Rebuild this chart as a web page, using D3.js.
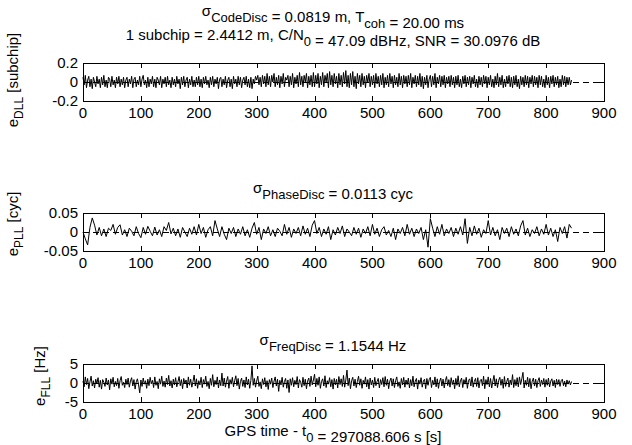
<!DOCTYPE html>
<html lang="en">
<head>
    <meta charset="UTF-8">
    <title>Discriminator errors</title>
    <script src="https://cdn.jsdelivr.net/npm/d3@7"></script>
    <style>
        body { margin: 0; background: #fff; }
        text { font-family: "Liberation Sans", Arial, Helvetica, sans-serif; fill: #000; }
    </style>
</head>
<body>
<script>
    // sample grids of the tracking output (seconds since t0)
    const codeTimes = d3.range(0, 845, 2)
    const phaseTimes = d3.range(0, 845, 4)
    const freqTimes = d3.range(0, 845, 2)
    const xTicks = [0, 100, 200, 300, 400, 500, 600, 700, 800, 900]

    // code discriminator error [subchip]
    const dllError = [
        0.05, -0.03, 0.07, -0.06, 0.02, 0.06, -0.05, 0.03, -0.07, 0.05, 0.00, -0.05, 0.06, -0.02, 0.03, -0.06, 0.05, -0.03, 0.07, -0.05,
        0.02, -0.06, 0.05, 0.03, -0.05, 0.06, -0.03, 0.02, -0.06, 0.05, -0.02, 0.06, -0.05, 0.03, -0.03, 0.05, -0.06, 0.02, 0.05, -0.05,
        0.03, -0.02, 0.06, -0.06, 0.03, 0.05, -0.05, 0.02, -0.03, 0.06, -0.05, 0.03, 0.07, -0.03, 0.02, -0.06, 0.05, -0.05, 0.03, -0.02,
        0.06, -0.05, 0.03, -0.06, 0.05, 0.02, -0.03, 0.06, -0.06, 0.03, -0.02, 0.05, -0.05, 0.06, -0.03, 0.02, -0.06, 0.05, -0.03, 0.03,
        -0.05, 0.06, -0.02, 0.03, -0.07, 0.05, -0.03, 0.06, -0.05, 0.02, 0.05, -0.06, 0.03, -0.03, 0.06, -0.05, 0.02, -0.05, 0.05, -0.03,
        0.06, -0.05, 0.03, -0.06, 0.05, -0.02, 0.06, -0.03, 0.02, -0.06, 0.05, -0.03, 0.06, -0.05, 0.03, -0.02, 0.05, -0.07, 0.03, 0.05,
        -0.05, 0.03, -0.03, 0.06, -0.06, 0.02, 0.05, -0.05, 0.03, -0.07, 0.06, -0.02, 0.03, -0.05, 0.06, -0.03, 0.05, -0.06, 0.02, 0.05,
        -0.03, 0.06, -0.05, 0.03, -0.06, 0.05, -0.07, 0.03, -0.02, 0.06, 0.02, 0.07, -0.03, 0.05, -0.05, 0.07, -0.02, 0.06, -0.05, 0.09,
        -0.03, 0.06, -0.05, 0.07, 0.00, 0.09, -0.05, 0.05, -0.03, 0.07, -0.06, 0.06, -0.02, 0.09, -0.05, 0.05, 0.02, 0.07, -0.05, 0.06,
        -0.03, 0.09, -0.06, 0.05, -0.02, 0.07, -0.05, 0.10, -0.03, 0.06, -0.05, 0.07, 0.00, 0.09, -0.06, 0.06, -0.03, 0.07, -0.05, 0.10,
        -0.05, 0.07, -0.02, 0.09, -0.06, 0.06, -0.03, 0.10, -0.05, 0.07, 0.00, 0.09, -0.06, 0.11, -0.03, 0.07, -0.05, 0.09, -0.02, 0.06,
        -0.06, 0.09, -0.03, 0.07, -0.05, 0.10, -0.02, 0.12, -0.05, 0.07, -0.06, 0.09, -0.03, 0.11, -0.05, 0.06, -0.07, 0.09, -0.02, 0.07,
        -0.05, 0.09, -0.03, 0.06, -0.06, 0.07, 0.00, 0.09, -0.05, 0.06, -0.03, 0.07, -0.06, 0.09, -0.02, 0.06, -0.05, 0.07, -0.03, 0.09,
        -0.06, 0.05, -0.03, 0.07, -0.05, 0.09, -0.02, 0.06, -0.06, 0.07, -0.03, 0.05, -0.05, 0.09, -0.03, 0.06, -0.06, 0.07, -0.02, 0.06,
        -0.05, 0.07, -0.03, 0.09, -0.06, 0.05, -0.02, 0.07, -0.05, 0.06, -0.03, 0.09, -0.05, 0.06, -0.07, 0.05, -0.03, 0.07, -0.06, 0.03,
        0.07, -0.05, 0.06, -0.03, 0.09, -0.06, 0.05, -0.02, 0.07, -0.05, 0.06, -0.03, 0.07, -0.06, 0.05, -0.02, 0.06, -0.05, 0.07, -0.03,
        0.05, -0.06, 0.06, -0.03, 0.07, -0.05, 0.03, -0.06, 0.06, -0.02, 0.07, -0.05, 0.05, -0.03, 0.06, -0.06, 0.05, -0.02, 0.07, -0.05,
        0.03, -0.06, 0.06, -0.03, 0.05, -0.05, 0.07, -0.02, 0.06, -0.06, 0.05, -0.03, 0.07, -0.05, 0.03, -0.06, 0.06, -0.03, 0.09, -0.05,
        0.05, -0.03, 0.07, -0.06, 0.03, -0.05, 0.06, -0.02, 0.07, -0.05, 0.05, -0.06, 0.06, -0.03, 0.07, -0.05, 0.03, -0.07, 0.06, -0.03,
        0.05, -0.05, 0.07, -0.03, 0.06, -0.06, 0.05, -0.02, 0.07, -0.05, 0.06, -0.03, 0.05, -0.06, 0.07, -0.03, 0.06, -0.05, 0.03, -0.06,
        0.07, -0.03, 0.05, -0.06, 0.06, -0.02, 0.07, -0.05, 0.05, -0.03, 0.06, -0.06, 0.03, -0.05, 0.07, -0.03, 0.06, -0.05, 0.05, -0.03,
        0.05, -0.03, 0.02
    ]

    // phase discriminator error [cyc]
    const pllError = [
        0.000, -0.018, -0.034, 0.012, 0.037, 0.018, -0.008, 0.012, -0.010, 0.008,
        -0.012, 0.010, 0.004, 0.020, -0.006, 0.012, 0.019, -0.008, 0.006, -0.012,
        0.010, 0.002, -0.010, 0.014, -0.004, -0.015, 0.012, -0.006, 0.015, 0.002,
        -0.010, 0.013, -0.008, 0.006, -0.012, 0.014, 0.004, 0.025, -0.005, 0.010,
        -0.010, 0.008, -0.014, 0.012, 0.000, -0.012, 0.010, -0.006, 0.014, -0.008,
        0.020, -0.004, 0.012, -0.014, 0.006, 0.014, -0.010, 0.030, 0.008, -0.012,
        0.014, -0.006, -0.020, 0.010, -0.004, 0.012, -0.012, 0.008, -0.006, 0.014,
        -0.010, 0.006, -0.014, 0.010, 0.025, -0.006, 0.012, -0.020, 0.008, -0.004,
        0.014, -0.010, 0.006, -0.012, 0.010, 0.002, -0.010, 0.020, -0.006, 0.012,
        -0.014, 0.008, -0.004, 0.012, -0.010, 0.016, -0.006, 0.010, -0.012, 0.018,
        0.030, -0.004, 0.012, -0.012, 0.008, -0.006, 0.014, -0.020, 0.006, -0.008,
        0.012, -0.004, 0.016, -0.012, 0.008, 0.000, -0.010, 0.012, -0.006, 0.010,
        -0.014, 0.008, -0.004, 0.014, -0.010, 0.020, -0.006, 0.010, -0.012, 0.006,
        0.014, -0.008, 0.004, -0.012, 0.010, -0.020, 0.008, -0.004, 0.012, -0.010,
        0.020, -0.006, 0.010, -0.012, 0.008, -0.004, 0.012, -0.020, 0.006, -0.040,
        0.035, 0.010, -0.012, 0.014, -0.006, 0.020, -0.010, 0.008, -0.004, 0.012,
        -0.012, 0.010, -0.006, 0.014, -0.008, 0.035, -0.030, 0.012, -0.010, 0.016,
        -0.006, 0.010, -0.014, 0.006, -0.004, 0.030, -0.008, 0.012, -0.010, 0.006,
        -0.020, 0.012, -0.004, 0.010, -0.012, 0.014, -0.006, 0.008, -0.010, 0.016,
        0.030, -0.008, 0.010, -0.012, 0.006, -0.004, 0.014, -0.010, 0.008, -0.006,
        0.020, -0.008, 0.010, -0.012, 0.006, -0.025, 0.012, -0.004, 0.014, -0.016,
        0.020, 0.010
    ]

    // frequency discriminator error [Hz]
    const fllError = [
        0.5, -1.0, 1.6, -0.4, 1.2, -1.5, 0.3, 1.8, -0.8, 0.6, -1.3, 1.0, -0.2, 1.4, -1.1, 0.7, -1.6, 0.9, 0.2, -0.9,
        1.3, -0.5, 0.8, -1.8, 1.1, -0.3, 1.5, -1.0, 0.4, -0.7, 1.2, -1.4, 0.6, 1.7, -0.6, 0.2, -1.2, 1.0, -0.4, 1.3,
        -1.1, 0.5, 1.4, -0.8, 0.9, -1.6, 0.3, 1.1, -0.5, -2.6, 0.8, -0.9, 1.3, -0.3, 0.6, -1.4, 1.0, -0.7, 1.5, -0.2,
        0.7, -1.2, 1.6, -0.6, 0.4, -1.5, 1.1, -0.3, 1.8, -0.9, 0.5, -1.1, 1.3, -0.4, 2.0, -0.8, 0.6, -1.3, 1.0, -0.5,
        1.4, -1.0, 0.3, 1.7, -0.7, 0.9, -1.5, 1.2, -0.2, 0.8, -1.3, 1.6, -0.6, 1.0, -1.1, 0.4, 2.1, -0.8, 1.1, -1.4,
        0.6, -0.5, 1.5, -1.2, 0.9, -0.3, 1.8, -0.9, 0.4, -1.5, 1.2, -0.6, 2.2, -1.0, 0.7, -0.4, 1.6, -1.3, 0.8, -0.7,
        2.6, -0.8, 1.3, -1.1, 0.5, 1.7, -1.4, 0.9, -0.3, 1.5, -1.0, 0.6, 1.9, -0.7, 1.2, -1.6, 0.4, 1.3, -0.9, 0.8,
        -1.2, 1.6, -0.5, 1.0, -1.4, 0.7, 4.5, -0.6, 1.2, -1.1, 0.5, 1.8, -0.9, 0.3, -1.5, 1.1, -0.4, 1.4, -1.0, 0.6,
        -1.7, 0.9, -0.3, 1.3, -1.2, 0.5, 1.6, -0.8, 1.0, -2.2, 0.7, -0.5, 1.5, -1.1, 0.4, 1.2, -1.4, 0.8, -2.5, 1.1,
        -0.6, 1.4, -1.0, 0.7, -0.4, 1.7, -1.3, 0.9, 0.2, -1.1, 1.5, -0.7, 1.0, -1.5, 0.5, 1.3, -0.9, 1.8, -0.5, 0.8,
        2.3, -1.0, 1.2, -0.6, 1.6, -1.4, 0.4, 1.1, -0.8, 1.9, -1.2, 0.6, -0.3, 1.4, -1.0, 0.9, -1.6, 1.2, -0.5, 1.0,
        -1.3, 1.7, -0.4, 1.1, -0.9, 2.0, -1.1, 0.8, 3.4, -0.7, 1.3, -1.5, 0.6, 1.5, -0.8, 1.0, -1.2, 0.4, 1.8, -0.6,
        1.1, -1.4, 0.7, -0.3, 1.6, -1.0, 0.9, -1.6, 1.3, -0.5, 0.8, -1.2, 1.5, -0.7, 0.4, 1.2, -1.3, 0.9, -0.4, 1.4,
        -1.0, 1.7, -0.6, 1.0, -1.5, 0.5, 1.3, -0.8, 1.1, -1.2, 0.6, 1.6, -0.9, 0.3, -1.4, 1.2, -0.5, 1.5, -1.1, 0.8,
        -0.4, 1.3, -1.3, 0.9, -0.7, 1.8, -1.0, 0.5, 1.2, -1.6, 0.8, -0.3, 1.4, -1.1, 0.6, 1.0, -1.5, 1.2, -0.6, 0.9,
        1.5, -1.2, 0.7, -0.5, 1.6, -1.0, 1.1, -1.4, 0.4, 1.3, -0.8, 1.0, -1.3, 0.6, 1.7, -0.7, 0.9, -1.1, 1.4, -0.4,
        0.8, -1.5, 1.2, -0.6, 1.9, -1.0, 0.5, 1.3, -1.2, 0.9, -0.3, 1.5, -1.4, 0.7, 1.1, -0.8, 1.6, -1.1, 0.4, 1.2,
        -0.9, 1.4, -1.3, 0.6, 1.0, -0.7, 1.8, -1.5, 0.9, -0.4, 1.6, -1.0, 1.2, -1.3, 0.5, 2.0, -0.8, 1.1, -1.2, 0.7,
        1.5, -0.6, 1.0, -1.4, 1.7, -0.9, 0.4, 1.3, -1.1, 0.8, -0.5, 2.2, -1.2, 0.9, -0.7, 1.4, -1.0, 1.6, -0.4, 1.1,
        2.8, -1.3, 0.7, -0.6, 1.5, -1.0, 1.2, -1.5, 0.5, 1.3, -0.8, 1.0, -1.2, 0.6, 1.4, -0.9, 0.8, -0.4, 1.2, -1.1,
        0.9, -0.6, 1.3, -1.0, 0.5, 1.1, -0.8, 0.7, -1.2, 1.0, -0.4, 0.9, -0.9, 0.6, 1.0, -0.7, 0.5, -1.0, 0.8, -0.3,
        0.6, -0.5, 0.4
    ]

    const dllTicks = [-0.2, 0, 0.2]
    const pllTicks = [-0.05, 0, 0.05]
    const fllTicks = [-5, 0, 5]

    const [width, height] = [632, 445]
    const left = 83, right = 604, plotH = 38
    const fontSize = 15, subSize = 13, ySubSize = 12
    const textCx = 333

    const svg = d3.select('body').append('svg')
        .attr('width', width)
        .attr('height', height)

    const x = d3.scaleLinear().domain([0, 900]).range([left, right])

    const panels = [
        {top: 63, times: codeTimes, values: dllError, ticks: dllTicks, fmt: d => d === 0 ? '0' : d.toFixed(1),
            sym: 'DLL', unit: '[subchip]', labelX: 18, labelDy: -2},
        {top: 213, times: phaseTimes, values: pllError, ticks: pllTicks, fmt: d => d === 0 ? '0' : d.toFixed(2),
            sym: 'PLL', unit: '[cyc]', labelX: 18, labelDy: -8},
        {top: 364, times: freqTimes, values: fllError, ticks: fllTicks, fmt: d => String(d),
            sym: 'FLL', unit: '[Hz]', labelX: 45, labelDy: -7}
    ]

    panels.forEach(p => {
        const y = d3.scaleLinear().domain(d3.extent(p.ticks)).range([p.top + plotH, p.top])
        const g = svg.append('g')

        // dashed zero line behind the trace
        g.append('line')
            .attr('x1', x(0)).attr('x2', x(900))
            .attr('y1', y(0) + 0.5).attr('y2', y(0) + 0.5)
            .attr('stroke', '#000').attr('stroke-width', 1)
            .attr('stroke-dasharray', '6,4')

        const line = d3.line()
            .x((d, i) => x(p.times[i]))
            .y(d => y(d))
        g.append('path')
            .datum(p.values)
            .attr('fill', 'none')
            .attr('stroke', '#000')
            .attr('stroke-width', 1)
            .attr('d', line)

        // frame
        g.append('rect')
            .attr('x', left + 0.5).attr('y', p.top + 0.5)
            .attr('width', right - left).attr('height', plotH)
            .attr('fill', 'none').attr('stroke', '#000').attr('stroke-width', 1)

        // inward ticks, matlab style
        const tl = 5
        xTicks.forEach(t => {
            const xx = Math.round(x(t)) + 0.5
            g.append('line').attr('x1', xx).attr('x2', xx)
                .attr('y1', p.top + plotH).attr('y2', p.top + plotH - tl)
                .attr('stroke', '#000')
            g.append('line').attr('x1', xx).attr('x2', xx)
                .attr('y1', p.top).attr('y2', p.top + tl)
                .attr('stroke', '#000')
            g.append('text')
                .attr('x', x(t)).attr('y', p.top + plotH + 17)
                .attr('text-anchor', 'middle')
                .attr('font-size', fontSize)
                .text(t)
        })
        p.ticks.forEach(t => {
            const yy = Math.round(y(t)) + 0.5
            g.append('line').attr('x1', left).attr('x2', left + tl)
                .attr('y1', yy).attr('y2', yy).attr('stroke', '#000')
            g.append('line').attr('x1', right).attr('x2', right - tl)
                .attr('y1', yy).attr('y2', yy).attr('stroke', '#000')
            g.append('text')
                .attr('x', left - 5).attr('y', y(t) + 5)
                .attr('text-anchor', 'end')
                .attr('font-size', fontSize)
                .text(p.fmt(t))
        })

        // y label: e_XXX [unit]
        const yl = g.append('text')
            .attr('transform', `translate(${p.labelX},${p.top + plotH / 2 + p.labelDy}) rotate(-90)`)
            .attr('text-anchor', 'middle')
            .attr('font-size', fontSize)
        yl.append('tspan').text('e')
        yl.append('tspan').attr('font-size', ySubSize).attr('dy', 5).text(p.sym)
        yl.append('tspan').attr('dy', -5).text(' ' + p.unit)
    })

    const title = (yPos, parts) => {
        const t = svg.append('text')
            .attr('x', textCx).attr('y', yPos)
            .attr('text-anchor', 'middle')
            .attr('font-size', fontSize)
        parts.forEach(([s, sub]) => {
            if (sub) {
                t.append('tspan').attr('font-size', subSize).attr('dy', 6).text(s)
                t.append('tspan').attr('dy', -6).text('')
            } else {
                t.append('tspan').text(s)
            }
        })
    }

    title(16, [['σ'], ['CodeDisc', true], ['  = 0.0819 m, T'], ['coh', true], ['  = 20.00 ms']])
    title(40, [['1 subchip = 2.4412 m, C/N'], ['0', true], [' = 47.09 dBHz, SNR = 30.0976 dB']])
    title(193, [['σ'], ['PhaseDisc', true], ['  = 0.0113 cyc']])
    title(345, [['σ'], ['FreqDisc', true], ['  = 1.1544 Hz']])
    title(436, [['GPS time - t'], ['0', true], [' = 297088.606 s [s]']])
</script>
</body>
</html>
